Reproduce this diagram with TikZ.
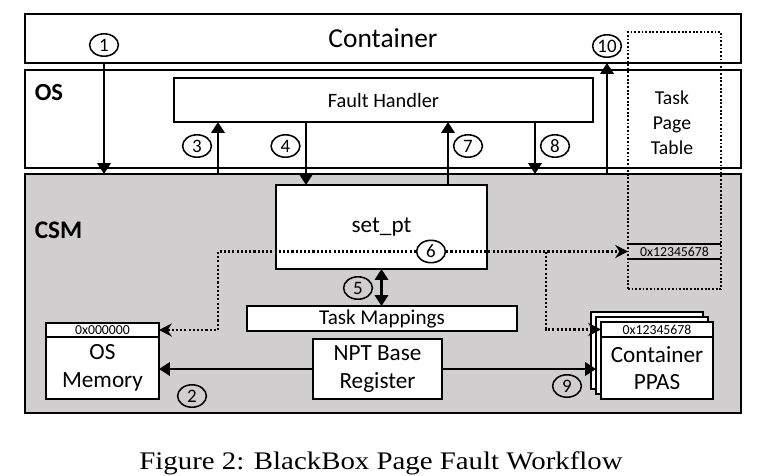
\documentclass[tikz,border=0pt]{standalone}
\usepackage{fontspec}
\setmainfont{Carlito}
\newfontfamily\capfont{Liberation Serif}[FakeStretch=1.14]
\usetikzlibrary{arrows.meta,shapes.geometric}
\definecolor{csmgray}{RGB}{208,206,206}
\definecolor{ink}{RGB}{0,0,0}

\begin{document}
\begin{tikzpicture}[
  x=0.25mm, y=-0.25mm,
  layer/.style={
    draw=ink, fill=white, line width=2pt,
    inner sep=0pt, outer sep=0pt,
    minimum width=179mm
  },
  box/.style={
    draw=ink, fill=white, line width=1.8pt,
    inner sep=0pt, outer sep=0pt, align=center
  },
  addr/.style={
    draw=ink, fill=white, line width=0.9pt,
    inner sep=0pt, outer sep=0pt,
    font=\fontsize{9.8}{11}\selectfont
  },
  stepnum/.style={
    ellipse, draw=ink, line width=1.1pt, inner sep=0pt,
    minimum width=7.2mm, minimum height=5.6mm,
    font=\fontsize{13.5}{15}\selectfont
  },
  solidflow/.style={-{Triangle[length=2.7mm,width=3.3mm]}, line width=1.7pt, draw=ink},
  bothflow/.style={{Triangle[length=2.7mm,width=3.3mm]}-{Triangle[length=2.7mm,width=3.3mm]}, line width=1.7pt, draw=ink},
  dotflow/.style={-{Stealth[length=3.2mm,width=3.3mm]}, line width=1.6pt, draw=ink,
    dash pattern=on 1.5pt off 1.5pt}
]
\useasboundingbox (0,0) rectangle (760,475);

% The three stacked layers.
\node[layer, minimum height=12.25mm, font=\fontsize{19.5}{22}\selectfont]
  (container) at (383,38.5) {Container};
\node[layer, minimum height=24.5mm] (os) at (383,119) {};
\node[layer, fill=csmgray, minimum height=59.75mm] (csm) at (383,293.5) {};
\node[font=\fontsize{17.5}{20}\selectfont\bfseries] (oslabel) at (49,93) {OS};
\node[font=\fontsize{18}{20}\selectfont\bfseries] (csmlabel) at (58.5,230.5) {CSM};

% OS side.
\node[box, minimum width=104.75mm, minimum height=11mm,
  font=\fontsize{14.5}{16}\selectfont] (handler) at (383.5,100) {Fault Handler};

% CSM side.
\node[box, minimum width=52.75mm, minimum height=21mm,
  font=\fontsize{16.5}{19}\selectfont] (setpt) at (381.5,227) {set\_pt};
\node[box, minimum width=67.5mm, minimum height=6.25mm,
  font=\fontsize{15}{17}\selectfont] (taskmap) at (382,318.5) {Task Mappings};
\node[box, minimum width=32.25mm, minimum height=15mm,
  font=\fontsize{16.5}{19.5}\selectfont] (npt) at (377.5,369) {NPT Base\\Register};

% OS memory with its first address.
\node[addr, minimum width=28.25mm, minimum height=3.5mm] (osaddr) at (102.5,330) {0x000000};
\node[box, minimum width=28.25mm, minimum height=15.5mm,
  font=\fontsize{16.5}{19.5}\selectfont] (osmem) at (102.5,368) {OS\\Memory};

% Container PPAS, a stack of copies.
\node[box, line width=1.4pt, minimum width=28mm, minimum height=19.25mm] (ppasback) at (647,350.5) {};
\node[box, line width=1.4pt, minimum width=28mm, minimum height=19.25mm] (ppasmid) at (652,355.5) {};
\node[addr, minimum width=28mm, minimum height=3.75mm] (ppasaddr) at (657,329.5) {0x12345678};
\node[box, minimum width=28mm, minimum height=15.5mm,
  font=\fontsize{16.5}{19.5}\selectfont] (ppas) at (657,368) {Container\\PPAS};

% Task page table spans all three layers.
\node[draw=ink, line width=1.4pt, dash pattern=on 1.3pt off 1.3pt,
  inner sep=0pt, outer sep=0pt,
  minimum width=23.25mm, minimum height=64.25mm] (tpt) at (674.5,160.5) {};
\node[align=center, font=\fontsize{14}{17.8}\selectfont] (tptlabel) at (672,123) {Task\\Page\\Table};
\node[inner sep=0pt, outer sep=0pt, minimum width=23.25mm, minimum height=3.75mm,
  font=\fontsize{9.8}{11}\selectfont] (tptentry) at (674.5,251.5) {0x12345678};
\draw[ink, line width=0.9pt]
  (tptentry.north west) -- (tptentry.north east)
  (tptentry.south west) -- (tptentry.south east);

% Step numbers.
\node[stepnum] (c1) at (104,45) {1};
\node[stepnum] (c2) at (192,396) {2};
\node[stepnum] (c3) at (197,146) {3};
\node[stepnum] (c4) at (285.5,146) {4};
\node[stepnum] (c5) at (358,288) {5};
\node[stepnum] (c6) at (431,251.5) {6};
\node[stepnum] (c7) at (468,146) {7};
\node[stepnum] (c8) at (555,146) {8};
\node[stepnum] (c9) at (567,386) {9};
\node[stepnum] (c10) at (607,46) {10};

% Fault path through the layers.
\draw[solidflow] (container.south -| c1) -- (csm.north -| c1);
\draw[solidflow] (npt.west) -- (npt.west -| osmem.east);
\draw[solidflow] ([xshift=11mm]handler.south west |- csm.north) -- ([xshift=11mm]handler.south west);
\draw[solidflow] ([xshift=33mm]handler.south west) -- ([xshift=33mm]handler.south west |- setpt.north);
\draw[bothflow] (setpt.south) -- (setpt.south |- taskmap.north);
\draw[solidflow] ([xshift=-9.75mm]setpt.north east) -- ([xshift=-9.75mm]setpt.north east |- handler.south);
\draw[solidflow] ([xshift=-14.5mm]handler.south east) -- ([xshift=-14.5mm]handler.south east |- csm.north);
\draw[solidflow] (npt.east) -- (npt.east -| ppasmid.west);
\draw[solidflow] (csm.north -| c10) -- (container.south -| c10);

% Step 6 writes the same entry to three places.
\coordinate (turnL) at (218,251.5);
\coordinate (turnR) at (546,251.5);
\draw[dotflow] (c6.west) -- (turnL) |- (osaddr.east);
\draw[dotflow] (c6.east) -- (tptentry.west);
\draw[dotflow] (turnR) |- (ppasaddr.west);

% Caption.
\node[font=\capfont\fontsize{18}{20}\selectfont] (caption) at (381,463)
  {Figure 2: BlackBox Page Fault Workflow};

\end{tikzpicture}
\end{document}
